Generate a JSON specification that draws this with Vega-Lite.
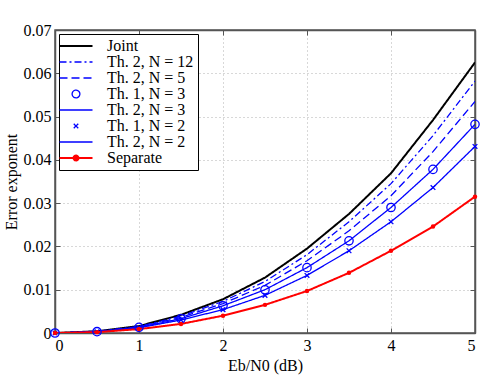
{
  "$schema": "https://vega.github.io/schema/vega-lite/v6.json",
  "width": 420,
  "height": 303,
  "padding": {"left": 3, "top": 22, "right": 24, "bottom": 2},
  "background": "white",
  "config": {
    "font": "Liberation Serif",
    "view": {"stroke": "#555555", "strokeWidth": 1.5},
    "style": {
      "guide-label": {"font": "Liberation Serif", "fontSize": 16, "fill": "black"},
      "guide-title": {"font": "Liberation Serif", "fontSize": 16, "fontWeight": "normal", "fill": "black"}
    },
    "axis": {
      "labelFont": "Liberation Serif",
      "titleFont": "Liberation Serif",
      "labelFontSize": 16,
      "titleFontSize": 16,
      "titleFontWeight": "normal",
      "labelColor": "black",
      "titleColor": "black",
      "domainColor": "#555555",
      "domainWidth": 1.5,
      "tickColor": "#555555",
      "tickSize": -5,
      "labelPadding": 9,
      "gridColor": "#b0b0b0",
      "gridDash": [1, 3],
      "gridWidth": 1
    }
  },
  "data": {
    "values": [
      {"x": 0, "y": 0, "series": "Joint"},
      {"x": 0.5, "y": 0.0004, "series": "Joint"},
      {"x": 1, "y": 0.0016, "series": "Joint"},
      {"x": 1.5, "y": 0.0042, "series": "Joint"},
      {"x": 2, "y": 0.0078, "series": "Joint"},
      {"x": 2.5, "y": 0.0128, "series": "Joint"},
      {"x": 3, "y": 0.0195, "series": "Joint"},
      {"x": 3.5, "y": 0.0275, "series": "Joint"},
      {"x": 4, "y": 0.0369, "series": "Joint"},
      {"x": 4.5, "y": 0.0492, "series": "Joint"},
      {"x": 5, "y": 0.0625, "series": "Joint"},
      {"x": 0, "y": 0, "series": "Th. 2, N = 12"},
      {"x": 0.5, "y": 0.0004, "series": "Th. 2, N = 12"},
      {"x": 1, "y": 0.0015, "series": "Th. 2, N = 12"},
      {"x": 1.5, "y": 0.0039, "series": "Th. 2, N = 12"},
      {"x": 2, "y": 0.0073, "series": "Th. 2, N = 12"},
      {"x": 2.5, "y": 0.0119, "series": "Th. 2, N = 12"},
      {"x": 3, "y": 0.0181, "series": "Th. 2, N = 12"},
      {"x": 3.5, "y": 0.0257, "series": "Th. 2, N = 12"},
      {"x": 4, "y": 0.0345, "series": "Th. 2, N = 12"},
      {"x": 4.5, "y": 0.0456, "series": "Th. 2, N = 12"},
      {"x": 5, "y": 0.0582, "series": "Th. 2, N = 12"},
      {"x": 0, "y": 0, "series": "Th. 2, N = 5"},
      {"x": 0.5, "y": 0.0003, "series": "Th. 2, N = 5"},
      {"x": 1, "y": 0.0014, "series": "Th. 2, N = 5"},
      {"x": 1.5, "y": 0.0036, "series": "Th. 2, N = 5"},
      {"x": 2, "y": 0.0068, "series": "Th. 2, N = 5"},
      {"x": 2.5, "y": 0.0110, "series": "Th. 2, N = 5"},
      {"x": 3, "y": 0.0167, "series": "Th. 2, N = 5"},
      {"x": 3.5, "y": 0.0236, "series": "Th. 2, N = 5"},
      {"x": 4, "y": 0.0317, "series": "Th. 2, N = 5"},
      {"x": 4.5, "y": 0.0419, "series": "Th. 2, N = 5"},
      {"x": 5, "y": 0.0535, "series": "Th. 2, N = 5"},
      {"x": 0, "y": 0, "series": "Th. 1, N = 3"},
      {"x": 0.5, "y": 0.0003, "series": "Th. 1, N = 3"},
      {"x": 1, "y": 0.0013, "series": "Th. 1, N = 3"},
      {"x": 1.5, "y": 0.0033, "series": "Th. 1, N = 3"},
      {"x": 2, "y": 0.0063, "series": "Th. 1, N = 3"},
      {"x": 2.5, "y": 0.0100, "series": "Th. 1, N = 3"},
      {"x": 3, "y": 0.0151, "series": "Th. 1, N = 3"},
      {"x": 3.5, "y": 0.0213, "series": "Th. 1, N = 3"},
      {"x": 4, "y": 0.0290, "series": "Th. 1, N = 3"},
      {"x": 4.5, "y": 0.0378, "series": "Th. 1, N = 3"},
      {"x": 5, "y": 0.0482, "series": "Th. 1, N = 3"},
      {"x": 0, "y": 0, "series": "Th. 2, N = 3"},
      {"x": 0.5, "y": 0.0003, "series": "Th. 2, N = 3"},
      {"x": 1, "y": 0.0013, "series": "Th. 2, N = 3"},
      {"x": 1.5, "y": 0.0033, "series": "Th. 2, N = 3"},
      {"x": 2, "y": 0.0063, "series": "Th. 2, N = 3"},
      {"x": 2.5, "y": 0.0100, "series": "Th. 2, N = 3"},
      {"x": 3, "y": 0.0151, "series": "Th. 2, N = 3"},
      {"x": 3.5, "y": 0.0213, "series": "Th. 2, N = 3"},
      {"x": 4, "y": 0.0290, "series": "Th. 2, N = 3"},
      {"x": 4.5, "y": 0.0378, "series": "Th. 2, N = 3"},
      {"x": 5, "y": 0.0482, "series": "Th. 2, N = 3"},
      {"x": 0, "y": 0, "series": "Th. 1, N = 2"},
      {"x": 0.5, "y": 0.0003, "series": "Th. 1, N = 2"},
      {"x": 1, "y": 0.0012, "series": "Th. 1, N = 2"},
      {"x": 1.5, "y": 0.0030, "series": "Th. 1, N = 2"},
      {"x": 2, "y": 0.0054, "series": "Th. 1, N = 2"},
      {"x": 2.5, "y": 0.0087, "series": "Th. 1, N = 2"},
      {"x": 3, "y": 0.0133, "series": "Th. 1, N = 2"},
      {"x": 3.5, "y": 0.0190, "series": "Th. 1, N = 2"},
      {"x": 4, "y": 0.0257, "series": "Th. 1, N = 2"},
      {"x": 4.5, "y": 0.0336, "series": "Th. 1, N = 2"},
      {"x": 5, "y": 0.0431, "series": "Th. 1, N = 2"},
      {"x": 0, "y": 0, "series": "Th. 2, N = 2"},
      {"x": 0.5, "y": 0.0003, "series": "Th. 2, N = 2"},
      {"x": 1, "y": 0.0012, "series": "Th. 2, N = 2"},
      {"x": 1.5, "y": 0.0030, "series": "Th. 2, N = 2"},
      {"x": 2, "y": 0.0054, "series": "Th. 2, N = 2"},
      {"x": 2.5, "y": 0.0087, "series": "Th. 2, N = 2"},
      {"x": 3, "y": 0.0133, "series": "Th. 2, N = 2"},
      {"x": 3.5, "y": 0.0190, "series": "Th. 2, N = 2"},
      {"x": 4, "y": 0.0257, "series": "Th. 2, N = 2"},
      {"x": 4.5, "y": 0.0336, "series": "Th. 2, N = 2"},
      {"x": 5, "y": 0.0431, "series": "Th. 2, N = 2"},
      {"x": 0, "y": 0, "series": "Separate"},
      {"x": 0.5, "y": 0.0002, "series": "Separate"},
      {"x": 1, "y": 0.0009, "series": "Separate"},
      {"x": 1.5, "y": 0.0021, "series": "Separate"},
      {"x": 2, "y": 0.0040, "series": "Separate"},
      {"x": 2.5, "y": 0.0065, "series": "Separate"},
      {"x": 3, "y": 0.0097, "series": "Separate"},
      {"x": 3.5, "y": 0.0139, "series": "Separate"},
      {"x": 4, "y": 0.0190, "series": "Separate"},
      {"x": 4.5, "y": 0.0246, "series": "Separate"},
      {"x": 5, "y": 0.0315, "series": "Separate"}
    ]
  },
  "layer": [
    {
      "transform": [{"filter": "indexof(datum.series, 'Th. 1') < 0"}],
      "mark": {"type": "line", "clip": true},
      "encoding": {
        "x": {
          "field": "x", "type": "quantitative",
          "scale": {"domain": [0, 5], "nice": false},
          "axis": {"title": "Eb/N0 (dB)", "values": [0, 1, 2, 3, 4, 5], "format": "d", "grid": true, "titlePadding": 4, "labelFont": "Liberation Serif", "titleFont": "Liberation Serif"}
        },
        "y": {
          "field": "y", "type": "quantitative",
          "scale": {"domain": [0, 0.07], "nice": false},
          "axis": {"title": "Error exponent", "values": [0, 0.01, 0.02, 0.03, 0.04, 0.05, 0.06, 0.07], "labelExpr": "datum.value == 0 ? '0' : format(datum.value, '.2f')", "grid": true, "titlePadding": 4, "labelFont": "Liberation Serif", "titleFont": "Liberation Serif"}
        },
        "color": {
          "field": "series", "type": "nominal",
          "scale": {
            "domain": ["Joint", "Th. 2, N = 12", "Th. 2, N = 5", "Th. 1, N = 3", "Th. 2, N = 3", "Th. 1, N = 2", "Th. 2, N = 2", "Separate"],
            "range": ["#000000", "#0000ff", "#0000ff", "#0000ff", "#0000ff", "#0000ff", "#0000ff", "#ff0000"]
          },
          "legend": {
            "title": null,
            "orient": "top-left",
            "offset": 4,
            "padding": 4,
            "strokeColor": "black",
            "fillColor": "white",
            "labelFont": "Liberation Serif",
            "labelFontSize": 16,
            "labelColor": "black",
            "labelLimit": 200,
            "symbolSize": 1089,
            "symbolType": "stroke",
            "symbolOffset": 5,
            "rowPadding": 0,
            "labelOffset": 23,
            "encode": {
              "symbols": {
                "update": {
                  "shape": {"signal": "datum.value === 'Th. 1, N = 3' ? 'circle' : datum.value === 'Th. 1, N = 2' ? 'M-1,-1L1,1M-1,1L1,-1' : datum.value === 'Separate' ? 'M-1,0H1M-0.15,0A0.15,0.15 0 1,1 0.15,0A0.15,0.15 0 1,1 -0.15,0Z' : 'stroke'"},
                  "size": {"signal": "datum.value === 'Th. 1, N = 3' ? 60 : datum.value === 'Th. 1, N = 2' ? 20 : 1089"},
                  "strokeDash": {"signal": "datum.value === 'Th. 2, N = 12' ? [7, 3, 2, 3] : datum.value === 'Th. 2, N = 5' ? [8, 4] : [1, 0]"},
                  "strokeWidth": {"signal": "datum.value === 'Joint' || datum.value === 'Separate' ? 2 : 1.3"},
                  "fill": {"signal": "datum.value === 'Separate' ? '#ff0000' : 'transparent'"},
                  "opacity": {"value": 1}
                }
              }
            }
          }
        },
        "strokeDash": {
          "field": "series", "type": "nominal",
          "scale": {
            "domain": ["Joint", "Th. 2, N = 12", "Th. 2, N = 5", "Th. 2, N = 3", "Th. 2, N = 2", "Separate"],
            "range": [[1, 0], [7, 3, 2, 3], [8, 4], [1, 0], [1, 0], [1, 0]]
          },
          "legend": null
        },
        "strokeWidth": {
          "condition": {"test": "datum.series === 'Joint' || datum.series === 'Separate'", "value": 2},
          "value": 1.3
        }
      }
    },
    {
      "transform": [{"filter": "datum.series === 'Th. 1, N = 3'"}],
      "mark": {"type": "point", "shape": "circle", "filled": false, "color": "#0000ff", "size": 70, "strokeWidth": 1.3, "opacity": 1},
      "encoding": {
        "x": {"field": "x", "type": "quantitative", "axis": null},
        "y": {"field": "y", "type": "quantitative", "axis": null}
      }
    },
    {
      "transform": [{"filter": "datum.series === 'Th. 1, N = 2'"}],
      "mark": {"type": "point", "shape": "M-1,-1L1,1M-1,1L1,-1", "filled": false, "color": "#0000ff", "size": 22, "strokeWidth": 1.3, "opacity": 1},
      "encoding": {
        "x": {"field": "x", "type": "quantitative", "axis": null},
        "y": {"field": "y", "type": "quantitative", "axis": null}
      }
    },
    {
      "transform": [{"filter": "datum.series === 'Separate'"}],
      "mark": {"type": "point", "shape": "circle", "filled": true, "color": "#ff0000", "size": 20, "opacity": 1},
      "encoding": {
        "x": {"field": "x", "type": "quantitative", "axis": null},
        "y": {"field": "y", "type": "quantitative", "axis": null}
      }
    },
    {
      "transform": [{"filter": "datum.series === 'Joint'"}],
      "mark": {"type": "point", "opacity": 0},
      "encoding": {
        "x": {
          "field": "x", "type": "quantitative",
          "axis": {"orient": "top", "title": null, "labels": false, "grid": false, "values": [0, 1, 2, 3, 4, 5]}
        },
        "y": {
          "field": "y", "type": "quantitative",
          "axis": {"orient": "right", "title": null, "labels": false, "grid": false, "values": [0, 0.01, 0.02, 0.03, 0.04, 0.05, 0.06, 0.07]}
        }
      }
    }
  ],
  "resolve": {"axis": {"x": "independent", "y": "independent"}}
}
